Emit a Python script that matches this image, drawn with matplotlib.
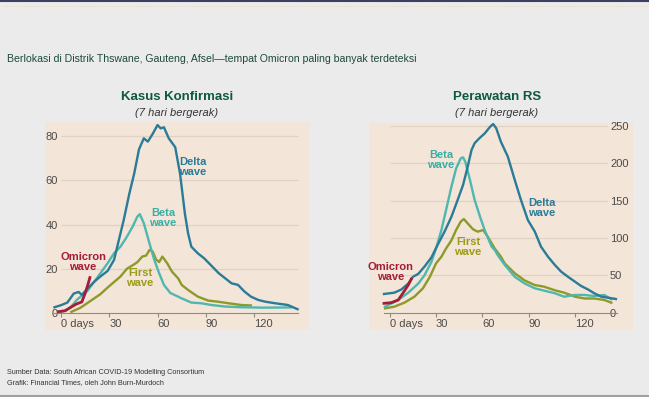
import numpy as np
import matplotlib
matplotlib.use('Agg')
from matplotlib import pyplot as plt

plt.rcParams['font.family'] = ['Liberation Sans', 'DejaVu Sans']

# Kasus Konfirmasi (kiri)
kasus_delta_x = [-4, 0, 4, 8, 11, 13, 16.5, 20.5, 24.5, 29, 33, 36, 39, 42.5, 45.5, 48.5, 51.5, 54, 57, 60, 62, 64,
                 67, 71, 74, 77, 79, 81, 85, 89, 94, 98, 102, 106, 110, 114, 118, 122.5, 127, 133, 141, 147]
kasus_delta_y = [2.6, 3.5, 4.7, 8.8, 9.5, 8.2, 11, 14, 16.5, 19, 24, 33, 42, 54, 63, 74, 79, 77.5, 81, 85, 83.5, 84,
                 79, 75, 63, 45, 36, 30, 27, 24.7, 21, 18, 15.7, 13.4, 12.7, 9.7, 7.4, 5.9, 5.1, 4.4, 3.6, 1.7]
kasus_beta_x = [0, 3, 6, 10, 16.5, 23, 29, 33, 37, 41, 44.5, 47.5, 49, 51.5, 55, 58, 61, 64, 68, 71, 75, 81, 87,
                93.5, 102, 112, 125, 143]
kasus_beta_y = [0.5, 1, 2.5, 6, 10, 16.4, 22.5, 27, 30, 34.5, 39, 43.6, 44.7, 40.6, 31.5, 24, 18, 12.7, 9, 8, 6.6,
                4.7, 4.4, 3.6, 2.9, 2.6, 2.4, 2.5]
kasus_first_x = [6.5, 12, 16.5, 20.5, 24.5, 29, 33, 37, 41, 45.5, 47.5, 50.5, 53, 55, 57, 59, 61, 63, 66, 69, 73,
                 75, 79, 85, 91.5, 97.5, 104, 112, 118]
kasus_first_y = [0.5, 2.3, 4.5, 6.5, 8.5, 11.5, 14, 16.5, 20, 22, 23, 25.5, 26, 28.5, 27.8, 24.3, 23, 25.5, 22.5,
                 18.7, 15.5, 12.7, 10.4, 7.4, 5.6, 5.1, 4.4, 3.6, 3.4]
kasus_omicron_x = [-1.5, 2.5, 5.5, 9.5, 13, 15, 16.5, 18]
kasus_omicron_y = [0.6, 1, 2.3, 4, 5, 8.8, 12.2, 16]

# Perawatan RS (kanan)
rs_delta_x = [-3.7, 3, 7.5, 12, 15, 18.5, 22.5, 27, 31, 35.5, 40, 44, 47.5, 50.5, 53, 55, 58, 61.5, 65, 67, 69, 72,
              76.5, 81, 85, 89.5, 94, 98, 102.5, 107, 111, 115.5, 120, 124, 128.5, 132.5, 137, 141.5, 146.5]
rs_delta_y = [25, 26.8, 31, 39, 48, 52, 61.6, 74, 90.6, 108.5, 128.6, 151, 171, 195.5, 218, 227, 233.5, 240, 249,
              252.7, 247, 229, 209, 177.7, 151, 124, 108.5, 88.4, 75, 63.8, 55, 48, 41.5, 35.7, 31, 26, 21.4, 20, 18.3]
rs_beta_x = [-3, 5.5, 12, 18.5, 22.5, 27, 30, 33.5, 36.5, 40, 43, 46, 47.5, 49, 52, 55, 58.5, 61.5, 66, 68, 70,
             74.5, 81, 87.5, 94, 100, 107, 113, 120, 126, 132.5, 139, 143.5]
rs_beta_y = [8, 17, 26.8, 39, 50, 68, 86, 110.7, 137.5, 169, 193, 206.7, 208, 202, 177.7, 151, 128.6, 110.7, 88.4,
             84, 77, 64, 48, 39, 32.6, 29.5, 26, 21.4, 23.7, 23.7, 22.3, 23.7, 18]
rs_first_x = [-3, 3, 9.5, 16, 21.5, 26, 30, 33.5, 36.5, 40, 43, 46, 48, 50.5, 54, 57, 60.5, 63.5, 68, 72, 74.5, 81,
              87.5, 94, 100, 107, 113, 120, 126, 132.5, 139, 143.5]
rs_first_y = [5.8, 8, 13.4, 21.4, 32.6, 48, 66, 75, 86, 97, 110.7, 122, 125.4, 119.6, 111.6, 108.5, 110.7, 101.8,
              86, 75, 66, 52.7, 43, 37, 34.8, 30, 26.8, 21.4, 19, 19, 17, 13.4]
rs_omicron_x = [-3.7, 1, 5.5, 8.5, 12, 14]
rs_omicron_y = [12.5, 13.4, 17, 26, 37, 45]

x_ticks = [0, 30, 60, 90, 120]
x_labels = ['0 days', '30', '60', '90', '120']
kasus_ticks = [0, 20, 40, 60, 80]
rs_ticks = [0, 50, 100, 150, 200, 250]

c_delta = '#2a7b98'
c_beta = '#4fb7b0'
c_first = '#8c9a2a'
c_omicron = '#a31c38'
bg_panel = '#f3e5d7'
c_grid = '#e0d2c4'
c_title = '#0e5a3e'

fig = plt.figure(figsize=(6.49, 3.97), dpi=100, facecolor='#ebebeb')

ax1 = fig.add_axes([0.0693, 0.1688, 0.4083, 0.524])
ax2 = fig.add_axes([0.5686, 0.1688, 0.4068, 0.522])


def style_panel(ax, yticks, xlim, ylim, grid_end, side):
    ax.set_facecolor(bg_panel)
    ax.set_xlim(*xlim)
    ax.set_ylim(*ylim)
    for s in ['top', 'left', 'right']:
        ax.spines[s].set_visible(False)
    ax.spines['bottom'].set_position(('data', 0))
    ax.spines['bottom'].set_bounds(-4, 147)
    ax.spines['bottom'].set_color('#8f8a84')
    ax.spines['bottom'].set_linewidth(0.8)
    ax.hlines(yticks[1:], 0, grid_end, color=c_grid, lw=0.9, zorder=1)
    ax.set_xticks(x_ticks)
    ax.set_xticklabels(x_labels, ha='left')
    ax.tick_params(axis='x', length=3, width=0.8, color='#8f8a84', pad=1.5, labelsize=8, labelcolor='#4a4a4a')
    ax.set_yticks(yticks)
    ax.yaxis.set_ticks_position(side)
    if side == 'left':
        ax.tick_params(axis='y', length=0, pad=-9.4, labelsize=8, labelcolor='#4a4a4a')
    else:
        ax.tick_params(axis='y', length=0, pad=-16.6, labelsize=8, labelcolor='#4a4a4a')


style_panel(ax1, kasus_ticks, (-9.9, 154.7), (-7.7, 86.4), 147, 'left')
style_panel(ax2, rs_ticks, (-13.4, 157.6), (-23.2, 254.4), 141, 'right')

lw = 1.7
ax1.plot(kasus_first_x, kasus_first_y, color=c_first, lw=lw, zorder=3)
ax1.plot(kasus_beta_x, kasus_beta_y, color=c_beta, lw=lw, zorder=4)
ax1.plot(kasus_delta_x, kasus_delta_y, color=c_delta, lw=lw, zorder=5)
ax1.plot(kasus_omicron_x, kasus_omicron_y, color=c_omicron, lw=2.0, zorder=6)

ax2.plot(rs_first_x, rs_first_y, color=c_first, lw=lw, zorder=3)
ax2.plot(rs_beta_x, rs_beta_y, color=c_beta, lw=lw, zorder=4)
ax2.plot(rs_delta_x, rs_delta_y, color=c_delta, lw=lw, zorder=5)
ax2.plot(rs_omicron_x, rs_omicron_y, color=c_omicron, lw=2.0, zorder=6)

# label gelombang
lab = dict(fontsize=8, fontweight='bold', ha='center', va='center', linespacing=1.1, transform=fig.transFigure)
fig.text(193 / 649, 1 - 167 / 397, 'Delta\nwave', color=c_delta, **lab)
fig.text(163 / 649, 1 - 218 / 397, 'Beta\nwave', color='#3aaea6', **lab)
fig.text(140 / 649, 1 - 278 / 397, 'First\nwave', color='#9a9c16', **lab)
fig.text(83 / 649, 1 - 262 / 397, 'Omicron\nwave', color=c_omicron, **lab)
fig.text(542 / 649, 1 - 208 / 397, 'Delta\nwave', color=c_delta, **lab)
fig.text(441 / 649, 1 - 160 / 397, 'Beta\nwave', color='#3aaea6', **lab)
fig.text(468 / 649, 1 - 247 / 397, 'First\nwave', color='#9a9c16', **lab)
fig.text(391 / 649, 1 - 272 / 397, 'Omicron\nwave', color=c_omicron, **lab)

# judul panel
fig.text(177 / 649, 1 - 97 / 397, 'Kasus Konfirmasi', fontsize=9.5, fontweight='bold', color=c_title,
         ha='center', va='center')
fig.text(177 / 649, 1 - 113 / 397, '(7 hari bergerak)', fontsize=8, style='italic', color='#333333',
         ha='center', va='center')
fig.text(497 / 649, 1 - 97 / 397, 'Perawatan RS', fontsize=9.5, fontweight='bold', color=c_title,
         ha='center', va='center')
fig.text(497 / 649, 1 - 113 / 397, '(7 hari bergerak)', fontsize=8, style='italic', color='#333333',
         ha='center', va='center')

fig.text(7 / 649, 1 - 59 / 397,
         'Berlokasi di Distrik Thswane, Gauteng, Afsel\u2014tempat Omicron paling banyak terdeteksi',
         fontsize=7.55, color='#1d4a3e', ha='left', va='center')

fig.text(7 / 649, 1 - 373 / 397, 'Sumber Data: South African COVID-19 Modelling Consortium',
         fontsize=5.2, color='#333333', ha='left', va='center')
fig.text(7 / 649, 1 - 383 / 397, 'Grafik: Financial Times, oleh John Burn-Murdoch',
         fontsize=5.2, color='#333333', ha='left', va='center')

# garis hiasan atas / bawah
fig.add_artist(plt.Line2D([0, 1], [0.998, 0.998], color='#3b4060', lw=1.5, transform=fig.transFigure))
fig.add_artist(plt.Line2D([0.005, 0.995], [1 - 6 / 397, 1 - 6 / 397], color='#e8d8b8', lw=0.8, ls=':',
                          transform=fig.transFigure))
fig.add_artist(plt.Line2D([0, 1], [0.002, 0.002], color='#a0a0a0', lw=1.5, transform=fig.transFigure))

plt.savefig('out.png', dpi=100, facecolor=fig.get_facecolor())
